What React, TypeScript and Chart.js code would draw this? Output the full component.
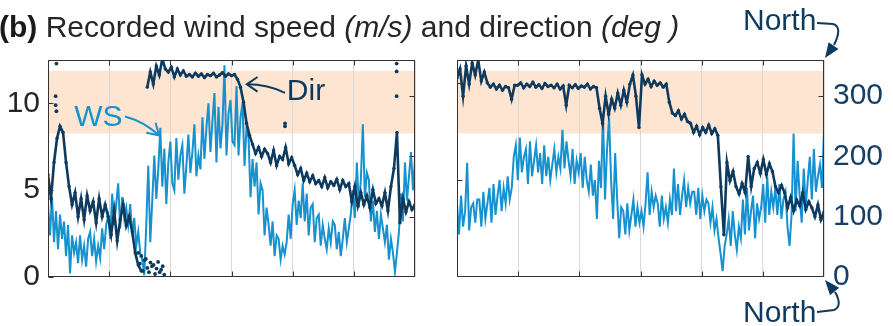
import { useEffect, useRef } from 'react';
import { Chart, registerables } from 'chart.js';

Chart.register(...registerables);

// ---------- data (time in hours, 0..24 per panel) ----------
const timeTicks = [0, 4, 8, 12, 16, 20, 24];
const wsTickLabels = [0, 5, 10];
const dirTickLabels = [0, 100, 200, 300];
const bandDeg = [238, 342];

// Left panel: wind speed (m/s)
const wsLeft = [
  4.2, 2.4, 4.6, 2.0, 3.8, 1.6,
  3.6, 2.2, 3.2, 1.2, 3.0, 0.2, 2.4,
  1.4, 2.0, 0.8, 2.4, 1.0, 1.8, 0.6, 2.2, 2.6, 1.2, 2.2, 0.9, 1.8, 1.1, 2.8, 1.6, 3.0,
  3.5, 2.2, 4.8, 3.0, 4.2, 5.4, 2.8, 4.6, 3.4, 4.0,
  3.0, 4.2, 2.4, 3.4, 1.8, 2.6, 1.4,
  1.0, 0.1, 3.0, 6.4, 2.0, 4.4,
  7.0, 4.5, 6.2, 8.6, 5.2, 7.4, 4.2, 6.6, 7.8, 5.4,
  5.0, 8.0, 5.6, 7.0, 7.6, 4.8, 6.4, 8.2, 6.0, 7.2, 8.8, 5.8, 7.0, 6.2,
  9.2, 6.8, 8.6, 10.0, 7.2, 9.0, 10.6, 6.6, 9.8, 7.4, 8.8, 12.2, 7.0, 9.4, 10.2, 7.8,
  7.6, 11.0, 7.0, 9.2, 10.0, 6.4, 8.6,
  8.0, 4.6, 6.8, 5.2, 6.6, 3.6, 5.4,
  5.0, 2.4, 4.0, 3.0, 1.8, 3.2, 1.2, 2.4,
  2.2, 1.0, 1.8, 1.3, 2.0,
  3.6, 2.2, 4.2, 5.0, 3.0, 4.4, 3.4,
  5.4, 3.2, 4.8, 2.4, 4.0, 4.2, 2.0, 3.4,
  3.6, 1.8, 3.0, 2.2, 1.6, 2.8, 2.0, 3.2,
  3.0, 1.6, 2.6, 1.2, 2.2, 3.4, 2.0, 2.8, 3.6,
  5.0, 3.4, 6.6, 4.0, 5.6, 8.8, 4.6, 6.0,
  5.6, 3.2, 4.4, 2.6, 3.8, 2.2, 3.6, 2.8,
  2.0, 3.0, 1.0, 2.2, 1.4, 0.3, 1.4, 2.6,
  4.8, 3.2, 6.6, 4.4, 5.8, 7.2, 5.0, 6.8,
];

// Left panel: direction (deg); null = wrap-around break
const dirLeft: (number | null)[] = [
  170, 130, 190,
  230, 250, 240,
  190, 150,
  120, 140, 100, 130, 95, 135, 110, 125, 90, 130, 100, 120,
  100, 70, 110, 60, 95, 120, 85, 100, 75,
  40, 20, 10,
  null,
  315, 340, 320, 350, 335, 362, 345,
  340, 348, 332, 345, 335, 342, 333,
  336, 332, 338, 333, 337, 331, 336, 334, 338, 332, 335, 339, 333, 337, 334,
  336, 328,
  315, 290, 255, 235,
  220, 205, 215, 200, 212,
  205, 190, 210, 185, 200, 195, 215, 188, 198,
  185, 170, 180, 160, 172, 158, 168, 155,
  160, 150, 165, 148, 158, 152, 162, 145, 160, 150, 155,
  125, 150, 118, 140, 120, 135, 115, 145, 122, 130, 118,
  140, 110, 150, 180, 240,
  90,
  130, 108, 125, 112, 120,
];

// Left panel: direction samples just past north (near 0 deg)
const dirLeftWrapT = [5.9, 6.0, 6.1, 6.2, 6.3, 6.4, 6.5, 6.6, 6.7, 6.8, 6.9, 7.0, 7.1, 7.2, 7.3, 7.4, 7.5, 7.6];
const dirLeftWrap = [40, 22, 35, 10, 28, 30, 15, 8, 24, 18, 20, 5, 14, 25, 8, 12, 18, 4];

// Left panel: isolated direction samples
const dirLeftExtraT = [0.5, 0.5, 0.55, 0.55, 15.5, 15.5, 22.8, 22.8, 22.8];
const dirLeftExtra = [300, 285, 275, 354, 255, 250, 354, 341, 300];

// Right panel: wind speed (m/s)
const wsRight = [
  3.8, 2.2, 4.2, 2.6, 3.4, 5.9, 2.4, 3.6, 3.8, 2.8, 4.0,
  4.0, 2.6, 4.4, 3.0, 3.8, 4.6, 2.8, 4.8, 3.2, 4.2, 5.0, 3.4, 4.6, 3.8, 5.2, 4.0, 4.6, 6.2,
  6.8, 5.0, 7.2, 5.4, 6.2, 6.6, 4.8, 7.0, 5.2, 6.0, 6.8, 5.4,
  6.4, 4.8, 6.8, 5.2, 6.2, 5.0, 5.8, 6.6, 5.4, 6.2, 5.6,
  7.6, 5.6, 7.0, 6.0, 5.2, 6.6, 4.8, 6.0, 5.4,
  6.4, 4.6, 6.2, 5.0, 4.4, 5.8, 4.2, 5.0,
  3.0, 6.0, 4.6, 8.4, 4.0, 6.6, 8.2, 5.0,
  3.0, 6.4, 4.0, 2.0, 3.6,
  3.4, 2.2, 3.8, 2.4, 3.2, 4.0, 2.6, 3.6, 2.8, 3.4, 2.6, 3.8,
  5.4, 3.2, 4.4, 3.6, 4.2,
  3.8, 2.6, 4.2, 3.0, 3.6, 2.8, 4.0, 3.2,
  5.6, 3.4, 4.8, 3.2, 4.2, 5.0, 3.6, 4.6, 3.8, 4.4,
  4.4, 3.2, 4.6, 3.0, 4.2, 3.4, 4.0,
  3.8, 2.8, 3.6, 2.4, 3.0,
  2.0, 1.2, 0.3, 1.6, 2.2,
  3.0, 1.6, 3.4, 2.2, 1.4, 2.6, 2.0,
  4.0, 2.2, 4.6, 2.4, 3.4, 4.2, 2.0, 3.8, 3.0, 3.6,
  4.8, 2.8, 5.2, 3.2, 4.4, 3.6,
  4.6, 3.2, 4.8, 3.0, 4.0, 4.4, 2.6, 1.6, 3.2,
  7.4, 3.4, 6.0, 4.2, 2.8, 5.6, 3.6, 5.0,
  6.2, 4.0, 6.6, 4.4, 5.2, 5.8, 4.6, 7.6,
];

// Right panel: direction (deg)
const dirRight = [
  330, 345,
  300, 350, 320,
  355, 335, 360, 325, 340,
  322, 315, 320, 312, 318, 310, 316, 314, 295, 318,
  318, 322, 314, 320, 316, 323, 315, 319, 313, 321, 316, 318, 314, 320, 312, 317, 285, 318, 314, 319, 313, 317, 315, 320, 312, 316, 314,
  280, 255,
  300, 270, 295, 280, 305, 285, 310, 290, 320, 335, 300,
  248,
  335, 320, 328, 316, 325, 318, 322, 315, 320,
  290, 272, 268, 276, 262, 270, 258,
  255, 240, 250, 236, 248, 240, 252, 238, 246, 235,
  150, 70,
  190, 160, 175,
  150, 138, 155, 140,
  200, 150, 180,
  190, 172, 195, 170, 188, 175,
  150, 140, 152,
  140, 115, 132, 110, 128, 118, 140, 112, 125,
  115, 100, 120, 95, 108,
];

// ---------- styles ----------
const FONT = "'Liberation Sans', Arial, Helvetica, sans-serif";
const WS_COLOR = '#1592cf';
const DIR_COLOR = '#0e3a5f';
const AXIS_RIGHT_COLOR = '#173f66';
const BAND_COLOR = '#fde5d1';
const FRAME = '#333333';
const GRID = '#d9d9d9';
const W = 893;
const H = 326;

const series = (vals: (number | null)[]) =>
  vals.map((v, i) => ({ x: (i * 24) / (vals.length - 1), y: v }));
const pairs = (ts: number[], vs: number[]) => ts.map((t, i) => ({ x: t, y: vs[i] }));

function openHead(ctx: CanvasRenderingContext2D, x: number, y: number, ang: number, len: number, spread: number) {
  ctx.beginPath();
  ctx.moveTo(x - len * Math.cos(ang - spread), y - len * Math.sin(ang - spread));
  ctx.lineTo(x, y);
  ctx.lineTo(x - len * Math.cos(ang + spread), y - len * Math.sin(ang + spread));
  ctx.stroke();
}
function filledHead(ctx: CanvasRenderingContext2D, x: number, y: number, ang: number, len: number, half: number) {
  const bx = x - len * Math.cos(ang);
  const by = y - len * Math.sin(ang);
  const px = -Math.sin(ang) * half;
  const py = Math.cos(ang) * half;
  ctx.beginPath();
  ctx.moveTo(x, y);
  ctx.lineTo(bx + px, by + py);
  ctx.lineTo(bx - px, by - py);
  ctx.closePath();
  ctx.fill();
}

function panelPlugin(leftTicks: number[]) {
  return {
    id: 'panelFrame',
    beforeDraw(chart: any) {
      const { ctx, chartArea } = chart;
      const { left, right } = chartArea;
      const y2 = chart.scales.y2;
      const a = y2.getPixelForValue(bandDeg[1]);
      const b = y2.getPixelForValue(bandDeg[0]);
      ctx.save();
      ctx.fillStyle = BAND_COLOR;
      ctx.fillRect(left, a, right - left, b - a);
      ctx.restore();
    },
    afterDatasetsDraw(chart: any) {
      const { ctx, chartArea } = chart;
      const L = Math.round(chartArea.left) + 0.5;
      const R = Math.round(chartArea.right) - 0.5;
      const T = Math.round(chartArea.top) + 0.5;
      const B = Math.round(chartArea.bottom) - 0.5;
      const tl = 5;
      ctx.save();
      ctx.strokeStyle = FRAME;
      ctx.lineWidth = 1;
      ctx.strokeRect(L, T, R - L, B - T);
      ctx.beginPath();
      const xs = chart.scales.x;
      timeTicks.slice(1, -1).forEach((t) => {
        const px = Math.round(xs.getPixelForValue(t)) + 0.5;
        ctx.moveTo(px, T); ctx.lineTo(px, T + tl);
        ctx.moveTo(px, B); ctx.lineTo(px, B - tl);
      });
      const ys = chart.scales.y;
      leftTicks.forEach((v) => {
        const py = Math.round(ys.getPixelForValue(v)) + 0.5;
        ctx.moveTo(L, py); ctx.lineTo(L + tl, py);
      });
      const y2 = chart.scales.y2;
      dirTickLabels.slice(1).forEach((v) => {
        const py = Math.round(y2.getPixelForValue(v)) + 0.5;
        ctx.moveTo(R, py); ctx.lineTo(R - tl, py);
      });
      ctx.stroke();
      ctx.restore();
    },
  };
}

const leftAnnotations = {
  id: 'leftAnnotations',
  afterDraw(chart: any) {
    const { ctx } = chart;
    const xs = chart.scales.x;
    const ys = chart.scales.y;
    const P = (t: number, v: number) => [xs.getPixelForValue(t), ys.getPixelForValue(v)];
    ctx.save();
    // title
    ctx.textBaseline = 'alphabetic';
    ctx.textAlign = 'left';
    let x = -1;
    const y = 37;
    ctx.fillStyle = '#1a1a1a';
    ctx.font = `bold 30px ${FONT}`;
    ctx.fillText('(b)', x, y);
    x += ctx.measureText('(b)').width;
    const parts: [string, string][] = [
      [' Recorded wind speed ', 'normal'],
      ['(m/s)', 'italic'],
      [' and direction ', 'normal'],
      ['(deg )', 'italic'],
    ];
    ctx.fillStyle = '#262626';
    parts.forEach(([txt, st]) => {
      ctx.font = `${st} 30px ${FONT}`;
      ctx.fillText(txt, x, y);
      x += ctx.measureText(txt).width;
    });

    // WS label + arrow
    ctx.font = `30px ${FONT}`;
    ctx.textAlign = 'center';
    ctx.textBaseline = 'middle';
    ctx.fillStyle = WS_COLOR;
    const [wx, wy] = P(3.3, 9.2);
    ctx.fillText('WS', wx, wy);
    ctx.strokeStyle = WS_COLOR;
    ctx.lineWidth = 2;
    const [s1x, s1y] = P(5.04, 9.25);
    const [c1x, c1y] = P(6.3, 8.95);
    const [e1x, e1y] = P(7.26, 8.16);
    ctx.beginPath();
    ctx.moveTo(s1x, s1y);
    ctx.quadraticCurveTo(c1x, c1y, e1x, e1y);
    ctx.stroke();
    openHead(ctx, e1x, e1y, Math.atan2(e1y - c1y, e1x - c1x), 13, 0.55);

    // Dir label + arrow
    ctx.fillStyle = DIR_COLOR;
    ctx.strokeStyle = DIR_COLOR;
    const [dx, dy] = P(16.87, 10.7);
    ctx.fillText('Dir', dx, dy);
    const [s2x, s2y] = P(15.5, 10.6);
    const [c2x, c2y] = P(14.4, 11.1);
    const [e2x, e2y] = P(13.0, 11.1);
    ctx.beginPath();
    ctx.moveTo(s2x, s2y);
    ctx.quadraticCurveTo(c2x, c2y, e2x, e2y);
    ctx.stroke();
    openHead(ctx, e2x, e2y, Math.atan2(e2y - c2y, e2x - c2x), 13, 0.6);
    ctx.restore();
  },
};

const rightAnnotations = {
  id: 'rightAnnotations',
  afterDraw(chart: any) {
    const { ctx, chartArea } = chart;
    const { right, top, bottom } = chartArea;
    ctx.save();
    ctx.fillStyle = DIR_COLOR;
    ctx.strokeStyle = DIR_COLOR;
    ctx.lineWidth = 2;
    ctx.font = `30px ${FONT}`;
    ctx.textAlign = 'left';
    ctx.textBaseline = 'alphabetic';
    ctx.fillText('North', right - 81, top - 30);
    ctx.fillText('North', right - 81, bottom + 45);
    // top arrow
    ctx.beginPath();
    ctx.moveTo(right - 7, top - 37);
    ctx.lineTo(right + 9, top - 36);
    ctx.quadraticCurveTo(right + 19, top - 33, right + 10, top - 15);
    ctx.stroke();
    filledHead(ctx, right + 1, top - 2, Math.atan2(13, -9), 15, 6);
    // bottom arrow
    ctx.beginPath();
    ctx.moveTo(right - 7, bottom + 35);
    ctx.lineTo(right + 10, bottom + 33);
    ctx.quadraticCurveTo(right + 19, bottom + 29, right + 11, bottom + 15);
    ctx.stroke();
    filledHead(ctx, right + 1, bottom + 3, Math.atan2(-12, -10), 15, 6);
    ctx.restore();
  },
};

function baseOptions(padding: any, wsMax: number, showLeft: boolean, showRight: boolean): any {
  return {
    animation: false,
    responsive: false,
    maintainAspectRatio: false,
    events: [],
    layout: { padding },
    plugins: { legend: { display: false }, tooltip: { enabled: false }, title: { display: false } },
    scales: {
      x: {
        type: 'linear',
        min: 0,
        max: 24,
        ticks: { display: false, stepSize: 4 },
        grid: { color: GRID, lineWidth: 1, drawTicks: false },
        border: { display: false },
        afterFit: (s: any) => { s.height = 0; },
      },
      y: {
        type: 'linear',
        position: 'left',
        display: showLeft,
        min: 0,
        max: wsMax,
        ticks: { font: { family: FONT, size: 30 }, color: '#262626', padding: 8 },
        grid: { display: false, drawTicks: false },
        border: { display: false },
        afterBuildTicks: (s: any) => { s.ticks = wsTickLabels.map((v) => ({ value: v })); },
        afterFit: (s: any) => { s.width = showLeft ? 48 : 0; },
      },
      y2: {
        type: 'linear',
        position: 'right',
        display: showRight,
        min: 0,
        max: 360,
        ticks: { font: { family: FONT, size: 30 }, color: AXIS_RIGHT_COLOR, padding: 9 },
        grid: { display: false, drawTicks: false },
        border: { display: false },
        afterBuildTicks: (s: any) => { s.ticks = dirTickLabels.map((v) => ({ value: v })); },
        afterFit: (s: any) => { s.width = showRight ? 69 : 0; },
      },
    },
  };
}

const dirStyle = {
  yAxisID: 'y2',
  borderColor: DIR_COLOR,
  backgroundColor: DIR_COLOR,
  pointBackgroundColor: DIR_COLOR,
  borderWidth: 2.6,
  pointRadius: 1.7,
  pointBorderWidth: 0,
  spanGaps: false,
};
const dotStyle = {
  yAxisID: 'y2',
  showLine: false,
  borderColor: DIR_COLOR,
  backgroundColor: DIR_COLOR,
  pointBackgroundColor: DIR_COLOR,
  pointRadius: 1.9,
  pointBorderWidth: 0,
};
const wsStyle = {
  yAxisID: 'y',
  borderColor: WS_COLOR,
  backgroundColor: WS_COLOR,
  borderWidth: 2,
  pointRadius: 0,
};

export default function App() {
  const leftRef = useRef<HTMLCanvasElement>(null);
  const rightRef = useRef<HTMLCanvasElement>(null);

  useEffect(() => {
    document.body.style.margin = '0';
    const left = new Chart(leftRef.current as HTMLCanvasElement, {
      type: 'line',
      data: {
        datasets: [
          { label: 'Dir', data: series(dirLeft), ...dirStyle } as any,
          { label: 'Dir near north', data: pairs(dirLeftWrapT, dirLeftWrap), ...dotStyle } as any,
          { label: 'Dir isolated', data: pairs(dirLeftExtraT, dirLeftExtra), ...dotStyle } as any,
          { label: 'WS', data: series(wsLeft), ...wsStyle } as any,
        ],
      },
      options: baseOptions({ left: 0, right: W - 415, top: 60, bottom: H - 277 }, 12.5, true, false),
      plugins: [panelPlugin(wsTickLabels) as any, leftAnnotations as any],
    });
    const right = new Chart(rightRef.current as HTMLCanvasElement, {
      type: 'line',
      data: {
        datasets: [
          { label: 'Dir', data: series(dirRight), ...dirStyle } as any,
          { label: 'WS', data: series(wsRight), ...wsStyle } as any,
        ],
      },
      options: baseOptions({ left: 457, right: 0, top: 60, bottom: H - 277 }, 11.2, false, true),
      plugins: [panelPlugin([5, 10]) as any, rightAnnotations as any],
    });
    return () => {
      left.destroy();
      right.destroy();
    };
  }, []);

  const cs: any = { position: 'absolute', left: 0, top: 0, width: W, height: H };
  return (
    <div style={{ position: 'fixed', left: 0, top: 0, width: W, height: H, background: '#ffffff' }}>
      <canvas ref={leftRef} width={W} height={H} style={cs} />
      <canvas ref={rightRef} width={W} height={H} style={cs} />
    </div>
  );
}
